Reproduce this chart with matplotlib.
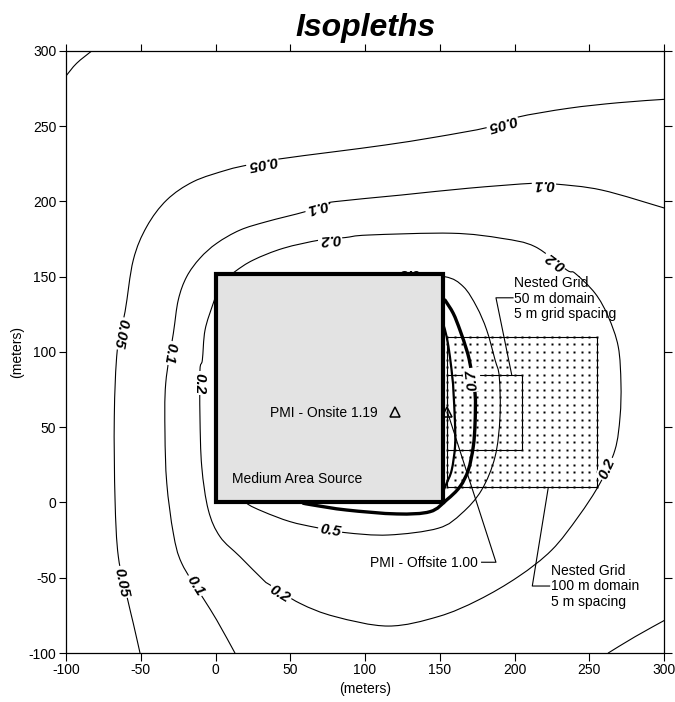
import numpy as np
import matplotlib
matplotlib.use("Agg")
import matplotlib.pyplot as plt
from matplotlib.patches import Rectangle, PathPatch
from matplotlib.path import Path

plt.rcParams['font.family'] = ['Liberation Sans', 'DejaVu Sans']
plt.rcParams['axes.unicode_minus'] = False

# ---- isopleth traces (meters) ----
iso_005_x = [300.7, 269.4, 236.0, 201.5, 182.5, 146.8, 113.4, 79.9, 40.9, 21.9, 7.5, -14.8,
             -32.6, -46.0, -55.0, -60.5, -65.7, -67.7, -67.2, -65.0, -58.7, -55.0, -50.5]
iso_005_y = [267.9, 265.6, 261.9, 255.9, 249.3, 242.7, 237.5, 233.1, 228.0, 224.3, 220.9, 213.2,
             201.0, 183.3, 161.1, 126.8, 101.3, 57.0, 1.7, -36.0, -64.8, -80.3, -100.0]

iso_01_x = [300.7, 258.3, 227.1, 212.6, 169.1, 124.5, 79.9, 75.5, 59.9, 34.2, 16.4, 0.8, -10.4,
            -19.3, -24.9, -28.2, -33.3, -33.8, -32.6, -28.2, -22.6, -8.2, 0.8, 13.0]
iso_01_y = [195.5, 207.6, 211.6, 212.1, 208.8, 204.3, 199.9, 198.3, 193.2, 186.6, 181.0, 172.2, 162.3,
            150.0, 134.6, 112.4, 79.2, 46.0, 12.8, -20.5, -40.4, -63.7, -78.1, -100.0]

iso_02_x = [3.0, 13.0, 25.3, 45.3, 69.9, 86.6, 102.2, 158.0, 191.4, 213.7, 234.9, 240.5, 253.9,
            262.7, 269.4, 271.2, 270.6, 267.2, 257.2, 242.7, 224.9, 202.5, 175.8, 149.0, 115.6,
            79.9, 56.5, 36.5, 32.0, 16.4, 3.0, -4.8, -9.2, -10.4, -10.4, -8.8, -7.0, -1.5, 3.0]
iso_02_y = [145.0, 153.4, 161.1, 168.9, 174.4, 176.0, 177.7, 178.9, 175.5, 170.0, 154.5, 152.3, 139.0,
            123.5, 103.5, 79.2, 57.0, 34.9, 12.8, -9.4, -31.6, -49.3, -64.8, -75.8, -82.1,
            -75.8, -67.0, -54.8, -51.5, -36.0, -22.7, -5.0, 23.8, 57.0, 88.0, 94.7, 114.6, 132.4, 145.0]

iso_05_x = [20.0, 20.9, 32.0, 49.8, 67.7, 86.6, 115.6, 149.0, 164.7, 178.0, 187.0, 190.3, 189.8,
            187.0, 181.4, 174.7, 165.8, 153.5, 128.0, 100.0, 60.0, 20.0]
iso_05_y = [5.0, -0.5, -6.1, -12.7, -16.7, -20.0, -21.6, -17.1, -7.2, 8.3, 30.4, 57.0, 83.6,
            94.7, 114.6, 130.0, 143.4, 150.0, 150.5, 150.0, 148.0, 140.0]

iso_07_x = [58.7, 65.4, 87.7, 121.2, 143.5, 154.6, 163.5, 169.1, 172.4, 173.6, 173.6, 170.2, 168.0,
            163.5, 159.0, 153.5]
iso_07_y = [-0.5, -1.7, -5.0, -7.6, -6.1, 1.7, 10.5, 21.6, 37.0, 52.6, 72.5, 92.5, 101.3,
            114.6, 125.7, 134.5]

iso_10_x = [152.5, 154.6, 156.8, 158.6, 159.1, 160.2, 160.2, 158.0, 154.6, 152.5]
iso_10_y = [118.0, 110.2, 96.9, 81.4, 74.8, 52.6, 37.0, 21.6, 12.8, 8.0]

# short isopleth pieces entering the corners of the domain
corner_tl_x = [-100.0, -92.9, -82.8]
corner_tl_y = [283.4, 291.8, 300.0]
corner_br_x = [300.7, 280.6, 262.7]
corner_br_y = [-78.1, -89.2, -100.0]

# contour label text, location and orientation (deg)
label_text = ["0.05", "0.05", "0.05", "0.05",
              "0.1", "0.1", "0.1", "0.1",
              "0.2", "0.2", "0.2", "0.2", "0.2",
              "0.5", "0.5", "0.7"]
label_x = [191.8, 31.3, -63.9, -62.8,
           219.7, 67.7, -30.4, -13.7,
           76.6, 227.5, 262.1, 43.1, -11.0,
           76.6, 129.4, 171.6]
label_y = [252.4, 226.0, 112.4, -53.0,
           211.6, 196.6, 99.3, -55.3,
           175.4, 160.7, 22.3, -60.8, 79.2,
           -18.7, 152.8, 81.4]
label_rot = [196, 191, -101, -78,
             181, 195, -99, -58,
             185, 144, 66, -31, -90,
             -9, 180, 97]

# source, receptors and nested grids
source_xy = (0.0, 0.0)
source_size = 152.0
pmi_onsite = (120.0, 60.0)
pmi_offsite = (155.0, 60.0)
grid100 = (155.0, 10.0, 100.0, 100.0)   # x0, y0, width, height
grid50 = (155.0, 35.0, 50.0, 50.0)
grid_spacing = 5.0

ticks = [-100, -50, 0, 50, 100, 150, 200, 250, 300]


def smooth_path(xs, ys):
    """Cubic Bezier path through every traced vertex (Catmull-Rom tangents)."""
    p = np.column_stack([xs, ys]).astype(float)
    n = len(p)
    verts = [p[0]]
    codes = [Path.MOVETO]
    for i in range(n - 1):
        p0 = p[i - 1] if i > 0 else p[i]
        p1, p2 = p[i], p[i + 1]
        p3 = p[i + 2] if i + 2 < n else p[i + 1]
        verts += [p1 + (p2 - p0) / 6.0, p2 - (p3 - p1) / 6.0, p2]
        codes += [Path.CURVE4] * 3
    return Path(verts, codes)


def draw_iso(ax, xs, ys, lw):
    ax.add_patch(PathPatch(smooth_path(xs, ys), fill=False, ec='black', lw=lw,
                           zorder=3, capstyle='round', joinstyle='round'))


fig = plt.figure(figsize=(6.75, 7.02), dpi=100)
ax = fig.add_axes([0.0978, 0.0698, 0.8859, 0.8576])
ax.set_xlim(-100, 300)
ax.set_ylim(-100, 300)

for xs, ys in [(iso_005_x, iso_005_y), (iso_01_x, iso_01_y), (iso_02_x, iso_02_y),
               (iso_05_x, iso_05_y), (corner_tl_x, corner_tl_y), (corner_br_x, corner_br_y)]:
    draw_iso(ax, xs, ys, 0.8)
draw_iso(ax, iso_07_x, iso_07_y, 2.4)
draw_iso(ax, iso_10_x, iso_10_y, 1.6)

for t, x, y, r in zip(label_text, label_x, label_y, label_rot):
    ax.text(x, y, t, rotation=r, rotation_mode='anchor', ha='center', va='center',
            fontsize=11, fontweight='bold', fontstyle='italic', zorder=4,
            bbox=dict(boxstyle='square,pad=0.1', fc='white', ec='none'))

# nested receptor grids
gx = np.arange(grid100[0], grid100[0] + grid100[2] + 0.1, grid_spacing)
gy = np.arange(grid100[1], grid100[1] + grid100[3] + 0.1, grid_spacing)
GX, GY = np.meshgrid(gx, gy)
ax.plot(GX.ravel(), GY.ravel(), ls='none', marker='s', ms=1.7, mfc='black', mec='none', zorder=2)
for g in (grid100, grid50):
    ax.add_patch(Rectangle((g[0], g[1]), g[2], g[3], fill=False, ec='black', lw=0.8, zorder=3))

# area source
ax.add_patch(Rectangle(source_xy, source_size, source_size, fc='#e3e3e3', ec='black',
                       lw=3.0, zorder=5, joinstyle='miter'))
ax.text(10.8, 15.4, "Medium Area Source", ha='left', va='center', fontsize=10, zorder=6)

# receptors
ax.plot(*pmi_onsite, marker='^', ms=7.5, mfc='none', mec='black', mew=1.1, zorder=6)
ax.plot(*pmi_offsite, marker='^', ms=7.5, mfc='none', mec='black', mew=1.1, zorder=6)
ax.text(108.5, 59.5, "PMI - Onsite 1.19", ha='right', va='center', fontsize=10, zorder=6)

# annotations with leaders
ax.text(175.4, -40.5, "PMI - Offsite 1.00", ha='right', va='center', fontsize=10, zorder=6)
ax.plot([178.0, 187.6, pmi_offsite[0] + 0.5], [-39.7, -39.7, pmi_offsite[1] - 1.0],
        color='black', lw=0.8, zorder=6)

for i, s in enumerate(["Nested Grid", "100 m domain", "5 m spacing"]):
    ax.text(224.4, -45.5 - 10.2 * i, s, ha='left', va='center', fontsize=10, zorder=6)
ax.plot([223.5, 211.9, 222.6], [-55.5, -55.5, grid100[1]], color='black', lw=0.8, zorder=6)

for i, s in enumerate(["Nested Grid", "50 m domain", "5 m grid spacing"]):
    ax.text(199.7, 145.6 - 10.2 * i, s, ha='left', va='center', fontsize=10, zorder=6)
ax.plot([199.0, 187.6, 198.1], [136.0, 136.0, grid50[1] + grid50[3]], color='black', lw=0.8, zorder=6)

# axes styling
ax.set_xticks(ticks)
ax.set_yticks(ticks)
ax.tick_params(axis='both', which='both', direction='out', length=5.4, width=0.8,
               labelsize=10, pad=1.5, top=True, right=True)
for sp in ax.spines.values():
    sp.set_linewidth(0.9)
ax.set_xlabel("(meters)", fontsize=10, labelpad=4)
ax.set_ylabel("(meters)", fontsize=10, labelpad=3)
ax.set_title("Isopleths", fontsize=23, fontweight='bold', fontstyle='italic', pad=11)

fig.savefig("out.png", dpi=100)
